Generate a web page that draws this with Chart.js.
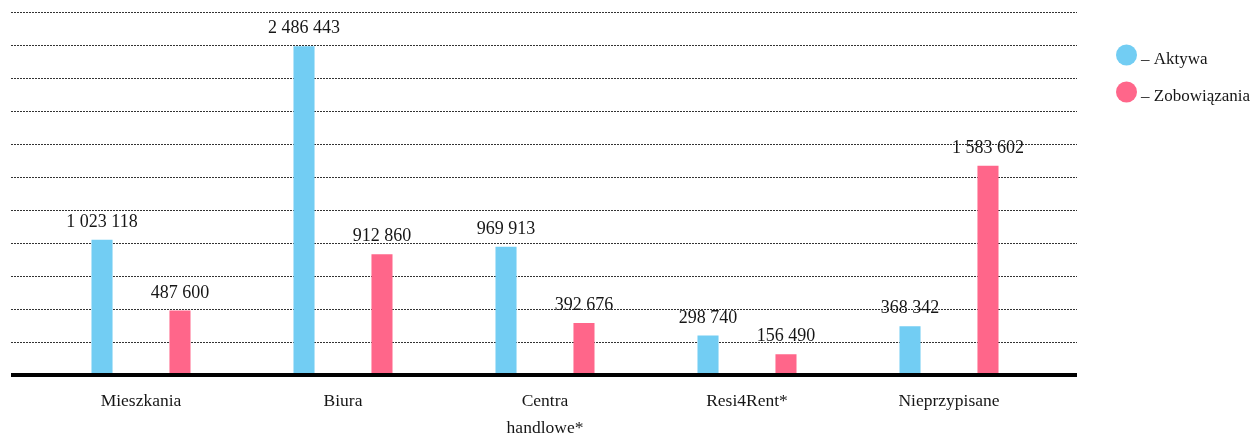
<!DOCTYPE html>
<html lang="pl">
<head>
<meta charset="utf-8">
<script src="https://cdn.jsdelivr.net/npm/chart.js@4.4.1/dist/chart.umd.min.js"></script>
<style>
  html, body { margin: 0; padding: 0; background: #fff; }
  #wrap { width: 1257px; height: 435px; position: relative; }
</style>
</head>
<body>
<div id="wrap"><canvas id="c" width="1257" height="435"></canvas></div>
<script>
// Segment data (tys. zł)
const categories = ['Mieszkania', 'Biura', ['Centra', 'handlowe*'], 'Resi4Rent*', 'Nieprzypisane'];
const seriesNames = ['Aktywa', 'Zobowiązania'];
const aktywa = [1023118, 2486443, 969913, 298740, 368342];
const zobowiazania = [487600, 912860, 392676, 156490, 1583602];
const axisMax = 2750000;
const axisStep = 250000;

const colors = ['#72CDF3', '#FF668A'];
const FONT = '"Liberation Serif", "DejaVu Serif", serif';
const TEXT = '#161616';

// Numbers grouped with spaces: 2 486 443
function fmt(v) {
  return String(v).replace(/\B(?=(\d{3})+(?!\d))/g, ' ');
}

// Dotted horizontal guides and the heavy zero line, wider than the bar area
const gridPlugin = {
  id: 'gridLines',
  beforeDatasetsDraw(chart) {
    const { ctx } = chart;
    const y = chart.scales.y;
    const x0 = 11, x1 = 1077;
    ctx.save();
    ctx.strokeStyle = '#333';
    ctx.lineWidth = 1;
    ctx.setLineDash([2, 1]);
    for (let v = axisStep; v <= axisMax; v += axisStep) {
      const py = Math.round(y.getPixelForValue(v)) + 0.5;
      ctx.beginPath();
      ctx.moveTo(x0, py);
      ctx.lineTo(x1, py);
      ctx.stroke();
    }
    ctx.restore();
  },
  afterDatasetsDraw(chart) {
    const { ctx } = chart;
    const y = chart.scales.y;
    ctx.save();
    ctx.strokeStyle = '#000';
    ctx.lineWidth = 4;
    const py = y.getPixelForValue(0);
    ctx.beginPath();
    ctx.moveTo(11, py);
    ctx.lineTo(1077, py);
    ctx.stroke();
    ctx.restore();
  }
};

// Value labels above every bar
const valueLabels = {
  id: 'valueLabels',
  afterDatasetsDraw(chart) {
    const { ctx } = chart;
    ctx.save();
    ctx.font = '18px ' + FONT;
    ctx.fillStyle = TEXT;
    ctx.textAlign = 'center';
    ctx.textBaseline = 'alphabetic';
    chart.data.datasets.forEach((ds, i) => {
      const meta = chart.getDatasetMeta(i);
      meta.data.forEach((bar, j) => {
        ctx.fillText(fmt(ds.data[j]), bar.x, bar.y - 13);
      });
    });
    ctx.restore();
  }
};

// Legend: coloured dots followed by "– name"
const dotLegend = {
  id: 'dotLegend',
  afterDraw(chart) {
    const { ctx } = chart;
    ctx.save();
    ctx.font = '17px ' + FONT;
    ctx.textAlign = 'left';
    ctx.textBaseline = 'alphabetic';
    chart.data.datasets.forEach((ds, i) => {
      const cy = 55 + i * 37;
      ctx.fillStyle = ds.backgroundColor;
      ctx.beginPath();
      ctx.arc(1126.5, cy, 10.5, 0, Math.PI * 2);
      ctx.fill();
      ctx.fillStyle = TEXT;
      ctx.fillText('– ' + ds.label, 1141, cy + 8.5);
    });
    ctx.restore();
  }
};

new Chart(document.getElementById('c'), {
  type: 'bar',
  data: {
    labels: categories,
    datasets: [
      { label: seriesNames[0], data: aktywa, backgroundColor: colors[0] },
      { label: seriesNames[1], data: zobowiazania, backgroundColor: colors[1] }
    ]
  },
  options: {
    responsive: false,
    animation: false,
    devicePixelRatio: 1,
    layout: { padding: { top: 11.5, left: 40, right: 207, bottom: 0 } },
    datasets: {
      bar: { categoryPercentage: 0.772, barPercentage: 0.27 }
    },
    plugins: {
      legend: { display: false },
      tooltip: { enabled: false }
    },
    scales: {
      x: {
        grid: { display: false, drawTicks: false, tickLength: 0 },
        border: { display: false },
        ticks: {
          color: TEXT,
          padding: 13,
          maxRotation: 0,
          autoSkip: false,
          font: { family: FONT, size: 17.5, lineHeight: 1.55 }
        },
        afterFit(scale) { scale.height = 60; }
      },
      y: {
        display: false,
        min: 0,
        max: axisMax,
        ticks: { stepSize: axisStep }
      }
    }
  },
  plugins: [gridPlugin, valueLabels, dotLegend]
});
</script>
</body>
</html>
